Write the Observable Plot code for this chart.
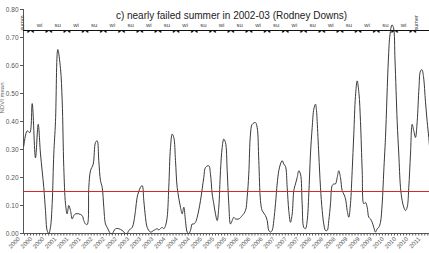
<!DOCTYPE html>
<html>
<head>
<meta charset="utf-8">
<script src="https://cdn.jsdelivr.net/npm/d3@7"></script>
<script src="https://cdn.jsdelivr.net/npm/@observablehq/plot@0.6"></script>
<style>
  html, body { margin: 0; padding: 0; background: #fff; }
  #chart { width: 429px; height: 253px; overflow: hidden; }
</style>
</head>
<body>
<div id="chart"></div>
<script>
const title = "c) nearly failed summer in 2002-03 (Rodney Downs)";
const yAxisTitle = "NDVI mean";

// time (decimal years) and NDVI values
const years = [
  2000.066,2000.159,2000.231,2000.297,2000.387,2000.462,2000.525,2000.615,2000.662,2000.709,
  2000.753,2000.799,2000.846,2000.890,2000.937,2001.000,2001.074,2001.121,2001.165,2001.212,
  2001.258,2001.302,2001.349,2001.396,2001.440,2001.486,2001.577,2001.670,2001.714,2001.761,
  2001.808,2001.852,2001.898,2001.973,2002.036,2002.082,2002.126,2002.173,2002.220,2002.264,
  2002.310,2002.357,2002.448,2002.495,2002.585,2002.676,2002.769,2002.860,2002.907,2002.951,
  2003.044,2003.135,2003.181,2003.272,2003.319,2003.363,2003.409,2003.456,2003.547,2003.637,
  2003.731,2003.775,2003.868,2003.912,2003.959,2004.005,2004.049,2004.096,2004.143,2004.187,
  2004.234,2004.280,2004.371,2004.418,2004.462,2004.508,2004.555,2004.599,2004.646,2004.692,
  2004.736,2004.783,2004.830,2004.920,2005.011,2005.058,2005.148,2005.195,2005.242,2005.286,
  2005.332,2005.379,2005.423,2005.470,2005.516,2005.560,2005.607,2005.654,2005.698,2005.745,
  2005.791,2005.835,2005.882,2005.973,2006.066,2006.157,2006.203,2006.247,2006.294,2006.341,
  2006.431,2006.478,2006.522,2006.569,2006.615,2006.706,2006.753,2006.797,2006.843,2006.890,
  2006.934,2006.981,2007.027,2007.071,2007.118,2007.165,2007.209,2007.255,2007.302,2007.346,
  2007.393,2007.440,2007.484,2007.530,2007.577,2007.621,2007.668,2007.714,2007.758,2007.805,
  2007.852,2007.896,2007.942,2007.989,2008.035,2008.080,2008.107,2008.126,2008.170,2008.217,
  2008.264,2008.308,2008.354,2008.401,2008.445,2008.492,2008.538,2008.582,2008.629,2008.676,
  2008.720,2008.766,2008.813,2008.857,2008.904,2008.951,2008.995,2009.041,2009.088,2009.132,
  2009.178,2009.225,2009.274,2009.316,2009.363,2009.407,2009.453,2009.500,2009.544,2009.591,
  2009.637,2009.681,2009.728,2009.775,2009.819,2009.865,2009.912,2009.956,2010.003,2010.082,
  2010.126,2010.181,2010.223,2010.264,2010.324,2010.368,2010.415,2010.462,2010.505,2010.552,
  2010.599,2010.643,2010.690,2010.736,2010.780,2010.827,2010.874,2010.923,2010.964,2011.005,
  2011.047,2011.102,2011.148,2011.192,2011.211
];
const ndvi = [
  0.313,0.367,0.360,0.464,0.270,0.390,0.284,0.165,0.082,0.010,
  0.000,0.022,0.107,0.284,0.400,0.657,0.590,0.473,0.236,0.106,
  0.070,0.100,0.082,0.052,0.064,0.070,0.070,0.064,0.046,0.034,
  0.032,0.165,0.224,0.248,0.325,0.331,0.260,0.189,0.165,0.094,
  0.034,0.022,0.000,0.000,0.017,0.017,0.011,0.000,0.000,0.011,
  0.022,0.082,0.130,0.165,0.171,0.117,0.058,0.022,0.005,0.011,
  0.017,0.013,0.022,0.017,0.028,0.058,0.165,0.307,0.355,0.343,
  0.260,0.165,0.094,0.070,0.094,0.046,0.005,0.000,0.011,0.034,
  0.034,0.040,0.058,0.117,0.200,0.236,0.242,0.212,0.141,0.106,
  0.070,0.046,0.094,0.224,0.307,0.337,0.325,0.224,0.106,0.034,
  0.046,0.058,0.052,0.052,0.064,0.082,0.130,0.212,0.355,0.390,
  0.396,0.378,0.260,0.117,0.082,0.064,0.046,0.011,0.005,0.011,
  0.046,0.106,0.177,0.224,0.248,0.260,0.248,0.240,0.165,0.082,
  0.040,0.070,0.153,0.177,0.200,0.224,0.212,0.106,0.022,0.017,
  0.046,0.141,0.284,0.378,0.445,0.462,0.440,0.400,0.284,0.165,
  0.082,0.034,0.011,0.011,0.046,0.106,0.171,0.177,0.177,0.200,
  0.224,0.200,0.153,0.141,0.124,0.082,0.058,0.106,0.224,0.355,
  0.490,0.545,0.500,0.400,0.224,0.106,0.111,0.094,0.058,0.052,
  0.040,0.022,0.005,0.017,0.022,0.040,0.106,0.224,0.343,0.620,
  0.710,0.745,0.735,0.620,0.400,0.284,0.165,0.117,0.094,0.082,
  0.094,0.165,0.284,0.390,0.367,0.343,0.400,0.520,0.580,0.585,
  0.560,0.470,0.400,0.343,0.313
];

const threshold = 0.15;

const xTickLabels = [
  "2000","2000","2000","2001","2001","2001","2002","2002","2002",
  "2003","2003","2003","2004","2004","2004","2005","2005","2005",
  "2006","2006","2006","2007","2007","2007","2008","2008","2008",
  "2009","2009","2009","2010","2010","2010","2011"
];
const yTicks = [0, 0.1, 0.2, 0.3, 0.4, 0.5, 0.6, 0.7, 0.8];

// season arrows along the top of the chart
const seasonBounds = [
  2000.25,2000.75,2001.25,2001.75,2002.25,2002.75,2003.25,2003.75,2004.25,2004.75,2005.25,
  2005.75,2006.25,2006.75,2007.25,2007.75,2008.25,2008.75,2009.25,2009.75,2010.25,2010.75
];
const seasonLabels = [
  "wi","su","wi","su","wi","su","wi","su","wi","su","wi",
  "su","wi","su","wi","su","wi","su","wi","su","wi"
];
const edgeLabels = ["summ", "sumer"];
const arrowRowY = 0.725;
const xDomain = [2000.058, 2011.212];

// ---- derived tables ----
const series = years.map((t, i) => ({t, v: ndvi[i]}));
const seasons = seasonLabels.map((l, i) => ({label: l, start: seasonBounds[i], end: seasonBounds[i + 1]}));
const edges = [
  {label: edgeLabels[0], start: xDomain[0], end: seasonBounds[0]},
  {label: edgeLabels[1], start: seasonBounds[seasonBounds.length - 1], end: xDomain[1]}
];
const endHeads = [edges[0], ...seasons];
const startHeads = [...seasons, edges[1]];
const monthTicks = d3.range(1, 135).map(k => 2000 + k / 12);
const labelTicks = xTickLabels.map((d, i) => ({label: d, t: 2000 + i / 3}));
const thresholdRows = [{x1: xDomain[0], x2: xDomain[1], y: threshold}];

const chart = Plot.plot({
  width: 429,
  height: 253,
  marginTop: 9,
  marginBottom: 20,
  marginLeft: 23,
  marginRight: 0,
  style: {fontFamily: "'Liberation Sans', Arial, sans-serif", fontSize: "6.5px", color: "#555", background: "#fff"},
  x: {domain: xDomain, ticks: monthTicks, tickSize: 2.5, tickFormat: () => "", label: null},
  y: {domain: [0, 0.8], ticks: yTicks, tickFormat: d3.format(".2f"), tickSize: 3, tickPadding: 2, label: null},
  marks: [
    Plot.ruleY([0], {stroke: "#555", strokeWidth: 1}),
    Plot.ruleX([xDomain[0]], {stroke: "#555", strokeWidth: 1}),
    Plot.line(series, {x: "t", y: "v", curve: "catmull-rom", stroke: "#3a3a3a", strokeWidth: 1}),
    Plot.link(thresholdRows, {x1: "x1", x2: "x2", y1: "y", y2: "y", stroke: "#d42a2a", strokeWidth: 1.2}),
    // season arrow row
    Plot.ruleY([arrowRowY], {stroke: "#111", strokeWidth: 1}),
    Plot.text(endHeads, {x: "end", y: () => arrowRowY, text: () => "\u25B8", textAnchor: "end", dx: -0.5, dy: 0.3, fontSize: 5.5, fill: "#111", fontFamily: "DejaVu Sans"}),
    Plot.text(startHeads, {x: "start", y: () => arrowRowY, text: () => "\u25C2", textAnchor: "start", dx: 0.5, dy: 0.3, fontSize: 5.5, fill: "#111", fontFamily: "DejaVu Sans"}),
    Plot.text(seasons, {x: d => (d.start + d.end) / 2, y: () => arrowRowY, text: "label", dy: -5, fontSize: 6, fill: "#444"}),
    Plot.text(edges, {x: d => (d.start + d.end) / 2, y: () => arrowRowY, text: "label", rotate: -90, textAnchor: "start", dy: 0, dx: -5, fontSize: 5.5, fill: "#444"}),
    // x tick labels
    Plot.text(labelTicks, {x: "t", frameAnchor: "bottom", text: "label", rotate: -45, textAnchor: "end", dy: 6, dx: -1, fontSize: 6, fill: "#555"}),
    // title and y-axis title
    Plot.text([title], {frameAnchor: "top", text: d => d, dx: 5, dy: 2.5, fontSize: 10, fill: "#222"}),
    Plot.text([yAxisTitle], {frameAnchor: "left", text: d => d, rotate: -90, dx: -21, dy: -8, fontSize: 6, fill: "#666"})
  ]
});
document.getElementById("chart").appendChild(chart);
</script>
</body>
</html>
